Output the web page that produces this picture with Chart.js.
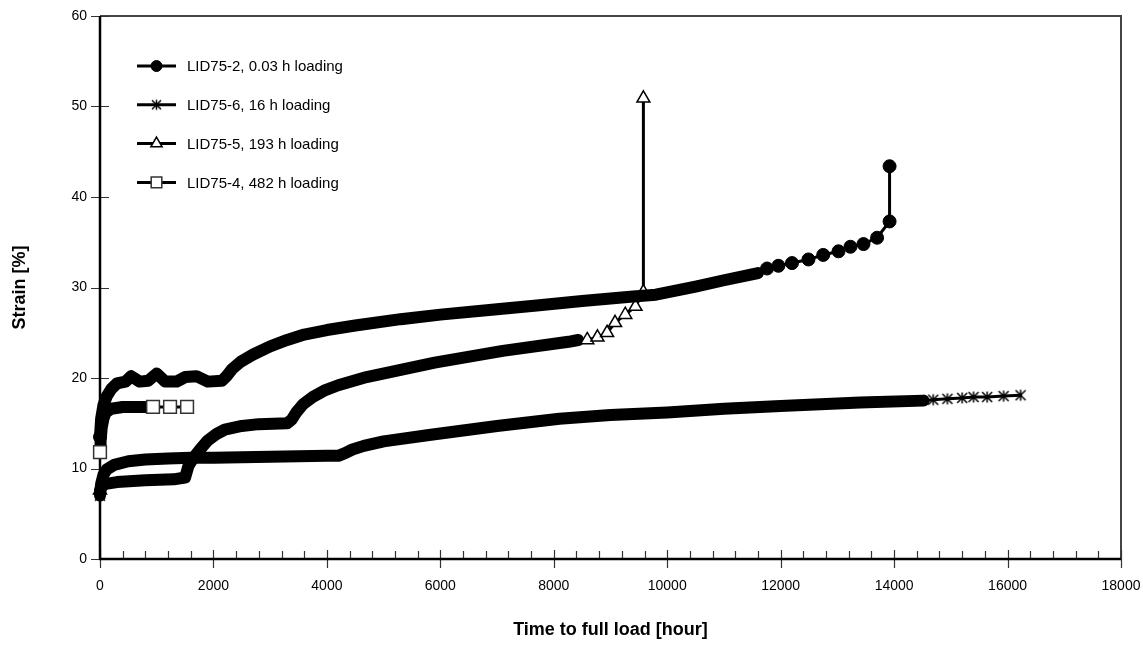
<!DOCTYPE html>
<html>
<head>
<meta charset="utf-8">
<title>Strain vs time to full load</title>
<script src="https://cdn.jsdelivr.net/npm/chart.js@4.4.1/dist/chart.umd.min.js"></script>
<style>
  html, body { margin: 0; padding: 0; background: #fff; }
  canvas { display: block; }
</style>
</head>
<body>
<canvas id="strainChart" width="1143" height="646"></canvas>
<script>
// values: time [hour], strain [%]
// "band" = the dense logged part, "tail" = the separate markers at the end

const lid2BandTime = [0, 20, 60, 120, 200, 300, 450, 550, 700, 850, 1000, 1150, 1350, 1500, 1700, 1900, 2150, 2230, 2330, 2480, 2700, 3000, 3300, 3600, 4000, 4500, 5300, 6000, 7000, 7700, 8500, 9400, 9800, 10500, 11000, 11600];
const lid2BandStrain = [13.5, 15.5, 17.0, 18.0, 18.8, 19.4, 19.6, 20.2, 19.6, 19.7, 20.5, 19.6, 19.6, 20.1, 20.2, 19.6, 19.7, 20.2, 21.0, 21.8, 22.6, 23.5, 24.2, 24.8, 25.3, 25.8, 26.5, 27.0, 27.6, 28.0, 28.5, 29.0, 29.2, 30.1, 30.8, 31.6];
const lid2TailTime = [11760, 11960, 12200, 12490, 12750, 13020, 13230, 13460, 13700, 13920, 13920];
const lid2TailStrain = [32.1, 32.4, 32.7, 33.1, 33.6, 34.0, 34.5, 34.8, 35.5, 37.3, 43.4];

const lid6BandTime = [0, 20, 60, 120, 250, 500, 800, 1200, 1600, 2000, 3000, 4000, 4200, 4320, 4450, 4650, 5000, 5800, 7000, 8100, 9000, 10000, 11000, 12000, 13400, 14520];
const lid6BandStrain = [7.0, 8.3, 9.3, 9.9, 10.4, 10.8, 11.0, 11.1, 11.2, 11.2, 11.3, 11.4, 11.4, 11.7, 12.1, 12.5, 13.0, 13.7, 14.7, 15.5, 15.9, 16.2, 16.6, 16.9, 17.3, 17.5];
const lid6TailTime = [14690, 14940, 15200, 15400, 15640, 15930, 16230];
const lid6TailStrain = [17.6, 17.7, 17.8, 17.9, 17.9, 18.0, 18.1];

const lid5BandTime = [0, 30, 100, 300, 800, 1300, 1500, 1560, 1650, 1750, 1900, 2050, 2200, 2500, 2800, 3300, 3380, 3460, 3580, 3750, 3950, 4200, 4700, 5900, 7100, 8260, 8430];
const lid5BandStrain = [7.6, 8.0, 8.3, 8.5, 8.7, 8.8, 9.0, 10.3, 11.2, 12.0, 13.1, 13.8, 14.3, 14.7, 14.9, 15.0, 15.4, 16.2, 17.1, 17.9, 18.6, 19.2, 20.1, 21.7, 23.0, 24.0, 24.2];
const lid5TailTime = [8590, 8770, 8940, 9080, 9260, 9440, 9580, 9580];
const lid5TailStrain = [24.2, 24.5, 25.0, 26.1, 27.0, 27.9, 29.5, 50.9];

const lid4BandTime = [0, 10, 30, 60, 100, 200, 400, 810];
const lid4BandStrain = [11.8, 13.0, 14.5, 15.5, 16.2, 16.6, 16.8, 16.8];
const lid4TailTime = [935, 1235, 1535];
const lid4TailStrain = [16.8, 16.8, 16.8];

const seriesLabels = ['LID75-2, 0.03 h loading', 'LID75-6, 16 h loading', 'LID75-5, 193 h loading', 'LID75-4, 482 h loading'];
const xTicks = [0, 2000, 4000, 6000, 8000, 10000, 12000, 14000, 16000, 18000];
const yTicks = [0, 10, 20, 30, 40, 50, 60];

Chart.defaults.font.family = "'Liberation Sans', Arial, sans-serif";
Chart.defaults.font.size = 14;
Chart.defaults.color = '#000';

// asterisk marker (vertical bar + cross), like the spreadsheet one
function makeAsterisk(size) {
    const c = document.createElement('canvas');
    c.width = size; c.height = size;
    const g = c.getContext('2d');
    const m = 1.5, h = size / 2;
    g.strokeStyle = '#000';
    g.lineWidth = 1.5;
    g.beginPath();
    g.moveTo(h, m); g.lineTo(h, size - m);
    g.moveTo(m + 0.5, m + 0.5); g.lineTo(size - m - 0.5, size - m - 0.5);
    g.moveTo(size - m - 0.5, m + 0.5); g.lineTo(m + 0.5, size - m - 0.5);
    g.stroke();
    return c;
}
const asterisk = makeAsterisk(14);
const asteriskSmall = makeAsterisk(13);

function toPoints(t, s) {
    return t.map((v, i) => ({ x: v, y: s[i] }));
}

function makeSeries(label, bandT, bandS, tailT, tailS, marker) {
    const bandLen = bandT.length;
    return {
        label: label,
        data: toPoints(bandT, bandS).concat(toPoints(tailT, tailS)),
        borderColor: '#000',
        borderWidth: 3,
        borderCapStyle: 'round',
        borderJoinStyle: 'round',
        tension: 0,
        clip: false,
        segment: {
            // dense logging shows as a thick band of overlapping markers
            borderWidth: ctx => ctx.p1DataIndex < bandLen ? 12 : 3
        },
        pointStyle: marker.style,
        pointBackgroundColor: marker.fill,
        pointBorderColor: marker.stroke,
        pointBorderWidth: marker.border,
        pointRadius: ctx => (ctx.dataIndex === 0 || ctx.dataIndex >= bandLen) ? marker.radius : 0,
        pointHoverRadius: ctx => (ctx.dataIndex === 0 || ctx.dataIndex >= bandLen) ? marker.radius : 0,
        legendMarker: marker
    };
}

const datasets = [
    makeSeries(seriesLabels[0], lid2BandTime, lid2BandStrain, lid2TailTime, lid2TailStrain,
        { style: 'circle', fill: '#000', stroke: '#000', border: 1, radius: 6.5, legendRadius: 5.5 }),
    makeSeries(seriesLabels[1], lid6BandTime, lid6BandStrain, lid6TailTime, lid6TailStrain,
        { style: asterisk, fill: '#000', stroke: '#000', border: 1, radius: 7, legendStyle: asteriskSmall }),
    makeSeries(seriesLabels[2], lid5BandTime, lid5BandStrain, lid5TailTime, lid5TailStrain,
        { style: 'triangle', fill: '#fff', stroke: '#000', border: 1.5, radius: 7.5, legendRadius: 6.5 }),
    makeSeries(seriesLabels[3], lid4BandTime, lid4BandStrain, lid4TailTime, lid4TailStrain,
        { style: 'rect', fill: '#fff', stroke: '#333', border: 1.5, radius: 9, legendRadius: 7.5 })
];

// small marker painter for the legend
function drawMarker(ctx, m, x, y) {
    const style = m.legendStyle || m.style;
    const r = m.legendRadius || m.radius;
    if (typeof style !== 'string') {
        ctx.drawImage(style, x - style.width / 2, y - style.height / 2);
        return;
    }
    ctx.fillStyle = m.fill;
    ctx.strokeStyle = m.stroke;
    ctx.lineWidth = m.border;
    ctx.beginPath();
    if (style === 'circle') {
        ctx.arc(x, y, r, 0, Math.PI * 2);
    } else if (style === 'triangle') {
        ctx.moveTo(x, y - r);
        ctx.lineTo(x + r * 0.866, y + r * 0.5);
        ctx.lineTo(x - r * 0.866, y + r * 0.5);
        ctx.closePath();
    } else {
        const s = r * Math.SQRT1_2;
        ctx.rect(x - s, y - s, 2 * s, 2 * s);
    }
    ctx.fill();
    ctx.stroke();
}

// axes, plot border and the tick marks that cross the axes
const framePlugin = {
    id: 'frame',
    beforeDatasetsDraw(chart) {
        const { ctx, chartArea: a, scales } = chart;
        const xs = scales.x, ys = scales.y;
        ctx.save();

        ctx.strokeStyle = '#444';
        ctx.lineWidth = 2;
        ctx.beginPath();
        ctx.moveTo(a.left, a.top);
        ctx.lineTo(a.right, a.top);
        ctx.lineTo(a.right, a.bottom);
        ctx.stroke();

        ctx.strokeStyle = '#333';
        ctx.lineWidth = 1.2;
        ctx.beginPath();
        yTicks.forEach(v => {
            const py = Math.round(ys.getPixelForValue(v)) + 0.5;
            ctx.moveTo(a.left - 9, py);
            ctx.lineTo(a.left + 9, py);
        });
        xTicks.forEach(v => {
            const px = Math.round(xs.getPixelForValue(v)) + 0.5;
            ctx.moveTo(px, a.bottom - 9);
            ctx.lineTo(px, a.bottom + 9);
        });
        for (let v = 400; v < 18000; v += 400) {
            if (v % 2000 === 0) continue;
            const px = Math.round(xs.getPixelForValue(v)) + 0.5;
            ctx.moveTo(px, a.bottom - 8);
            ctx.lineTo(px, a.bottom);
        }
        ctx.stroke();

        ctx.strokeStyle = '#000';
        ctx.lineWidth = 2.5;
        ctx.beginPath();
        ctx.moveTo(a.left, a.top);
        ctx.lineTo(a.left, a.bottom);
        ctx.lineTo(a.right, a.bottom);
        ctx.stroke();
        ctx.restore();
    }
};

const legendPlugin = {
    id: 'lineLegend',
    afterDraw(chart) {
        const ctx = chart.ctx;
        ctx.save();
        chart.data.datasets.forEach((ds, i) => {
            const y = 66 + i * 38.8;
            ctx.strokeStyle = '#000';
            ctx.lineWidth = 3;
            ctx.beginPath();
            ctx.moveTo(137, y);
            ctx.lineTo(176, y);
            ctx.stroke();
            drawMarker(ctx, ds.legendMarker, 156.5, y);
            ctx.fillStyle = '#000';
            ctx.font = "15px 'Liberation Sans', Arial, sans-serif";
            ctx.textAlign = 'left';
            ctx.textBaseline = 'middle';
            ctx.fillText(ds.label, 187, y + 1);
        });
        ctx.restore();
    }
};

new Chart(document.getElementById('strainChart'), {
    type: 'line',
    data: { datasets: datasets },
    options: {
        responsive: false,
        animation: false,
        events: [],
        layout: { padding: { left: 0, right: 22, top: 16, bottom: 0 } },
        plugins: {
            legend: { display: false },
            tooltip: { enabled: false }
        },
        scales: {
            x: {
                type: 'linear',
                min: 0,
                max: 18000,
                grid: { display: false, drawTicks: false },
                border: { display: false },
                afterFit: s => { s.height = 87; s.paddingLeft = 0; s.paddingRight = 0; },
                afterBuildTicks: s => { s.ticks = xTicks.map(v => ({ value: v })); },
                ticks: {
                    autoSkip: false,
                    maxRotation: 0,
                    padding: 19,
                    font: { size: 14 },
                    callback: v => String(v)
                },
                title: {
                    display: true,
                    text: 'Time to full load [hour]',
                    font: { size: 18, weight: 'bold' },
                    padding: { top: 5, bottom: 5 }
                }
            },
            y: {
                type: 'linear',
                min: 0,
                max: 60,
                grid: { display: false, drawTicks: false },
                border: { display: false },
                afterFit: s => { s.width = 100; s.paddingTop = 0; s.paddingBottom = 0; },
                afterBuildTicks: s => { s.ticks = yTicks.map(v => ({ value: v })); },
                ticks: { padding: 13, font: { size: 14 }, callback: v => String(v) },
                title: {
                    display: true,
                    text: 'Strain [%]',
                    font: { size: 18, weight: 'bold' },
                    padding: { top: 9, bottom: 9 }
                }
            }
        }
    },
    plugins: [framePlugin, legendPlugin]
});
</script>
</body>
</html>
